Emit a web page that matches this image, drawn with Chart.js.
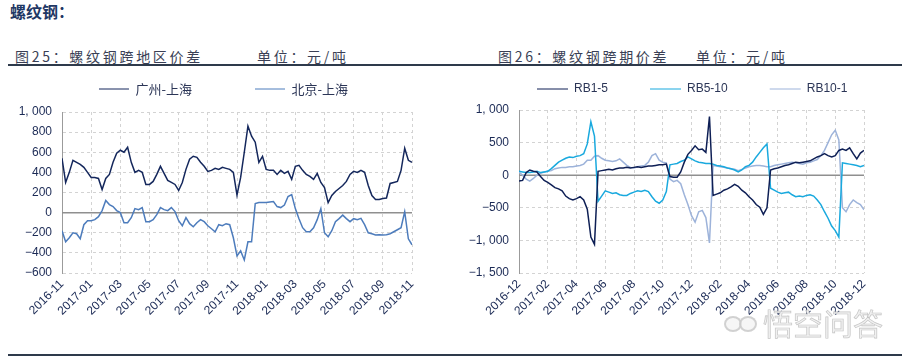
<!DOCTYPE html>
<html><head><meta charset="utf-8">
<script src="https://cdn.jsdelivr.net/npm/chart.js@4.4.1/dist/chart.umd.min.js"></script>
<style>
html,body{margin:0;padding:0;background:#fff;}
body{width:902px;height:356px;position:relative;overflow:hidden;}
.t{position:absolute;white-space:nowrap;font-family:"Noto Sans CJK SC",sans-serif;}
#title{left:10px;top:2px;font-size:16px;line-height:18px;font-weight:700;color:#1f3864;}
.sub{top:49px;font-size:14px;line-height:14px;letter-spacing:2.7px;color:#3a3f55;}
.rule{position:absolute;left:8px;width:894px;height:2px;background:#2e3a4b;}
canvas{position:absolute;top:0;}
#wm{left:763px;top:305px;font-size:30px;line-height:34px;color:rgba(238,238,238,0.85);-webkit-text-stroke:0.7px rgba(175,175,175,0.7);z-index:5;}
.wmc{position:absolute;border:2px solid rgba(200,200,200,0.8);border-radius:50%;width:14px;height:12px;z-index:5;background:rgba(240,240,240,0.6);}
</style></head><body>
<div id="title" class="t">螺纹钢：</div>
<div class="t sub" style="left:15px">图25：螺纹钢跨地区价差</div>
<div class="t sub" style="left:257px">单位：元/吨</div>
<div class="t sub" style="left:498px">图26：螺纹钢跨期价差</div>
<div class="t sub" style="left:696px">单位：元/吨</div>
<div class="rule" style="top:64px"></div>
<div class="rule" style="top:354px"></div>
<canvas id="c1" width="450" height="350" style="left:0"></canvas>
<canvas id="c2" width="452" height="350" style="left:450px"></canvas>
<div class="wmc" style="left:724px;top:316px"></div>
<div class="wmc" style="left:739px;top:316px"></div>
<div id="wm" class="t">悟空问答</div>
<script>
// ---- data ----
const xLabelsRegion = ['2016-11','2017-01','2017-03','2017-05','2017-07','2017-09','2017-11','2018-01','2018-03','2018-05','2018-07','2018-09','2018-11'];
const xLabelsSpread = ['2016-12','2017-02','2017-04','2017-06','2017-08','2017-10','2017-12','2018-02','2018-04','2018-06','2018-08','2018-10','2018-12'];
const sampleStep = 0.25; // months between readings (about weekly)

const gzSh = [540,300,400,520,500,480,450,400,350,350,
  340,230,340,380,500,590,620,600,650,500,
  400,420,400,280,280,310,380,460,390,320,
  300,280,220,300,430,530,560,550,500,460,
  410,420,440,430,450,440,430,400,175,350,
  600,860,760,700,500,560,430,420,420,380,
  420,390,410,330,460,470,420,380,360,330,
  390,300,250,100,170,210,240,270,310,380,
  410,400,420,400,270,170,130,130,140,145,
  290,300,310,420,640,520,500];
const bjSh = [-180,-290,-250,-200,-210,-260,-120,-80,-80,-70,
  -40,20,120,80,60,20,0,-100,-100,-50,
  40,30,50,-90,-90,-70,-20,50,30,20,
  50,10,-80,-130,-50,-110,-140,-100,-70,-90,
  -130,-160,-190,-120,-130,-110,-120,-250,-430,-380,
  -470,-290,-290,90,100,100,100,105,110,60,
  50,75,160,180,40,-60,-150,-190,-190,-150,
  -70,40,-200,-240,-180,-90,-60,-25,-60,-90,
  -60,-70,-57,-120,-200,-210,-222,-220,-222,-220,
  -210,-190,-170,-150,10,-260,-320];

const rb15 = [-90,-80,40,80,60,50,-20,-80,-110,-150,
  -190,-210,-240,-320,-360,-380,-360,-330,-380,-520,
  -950,-1060,
  60,70,80,90,80,100,110,110,120,110,
  120,130,120,130,140,140,150,160,160,170,
  -20,-30,-30,50,200,320,380,450,390,400,350,900,
  -310,-290,-270,-230,-210,-180,-140,-170,-230,-270,-330,-380,-450,-490,-600,-500,
  80,100,110,130,150,160,180,200,190,200,210,220,250,280,300,330,300,280,300,380,400,380,420,330,250,340,380];
const rb510 = [60,50,40,40,50,60,40,50,60,100,
  150,200,230,260,280,270,290,300,330,480,820,600,
  -400,-320,-240,-260,-280,-270,-300,-310,-310,-280,
  -260,-240,-250,-230,-250,-330,-400,-430,-380,-250,
  160,170,180,210,230,280,250,220,200,190,180,180,170,150,140,130,110,100,80,50,80,130,150,200,280,350,420,480,
  -200,-230,-260,-280,-270,-260,-300,-330,-320,-330,-310,-300,-320,-380,-450,-560,-660,-780,-850,-950,
  190,180,170,160,150,130,150];
const rb101 = [50,0,-60,-90,-50,0,30,50,60,70,
  100,110,120,120,130,130,140,150,170,230,
  230,290,300,260,230,220,210,220,250,200,
  150,120,110,130,140,150,200,300,330,230,200,190,
  -60,-100,-80,-130,-300,-450,-620,-720,-560,-540,-650,-1040,
  150,140,130,120,110,100,90,70,90,110,130,140,150,150,140,130,130,150,160,170,180,190,200,190,180,170,190,200,220,240,300,380,500,620,690,540,
  -500,-560,-450,-380,-420,-450,-530];

// ---- styling ----
const tickFont = {family:'"Liberation Sans", Arial, sans-serif', size:12};
const tickColor = '#1b2a55';
const gridColor = '#d3d3d3';
function fmtY(v){ const s = Math.abs(v).toLocaleString('en-US').replace(',', ', '); return (v < 0 ? '\u2212' : '') + s; }
function toPts(arr){ return arr.map((v,i)=>({x:i*sampleStep, y:v})); }

const zeroLine = {
  id:'zeroLine',
  beforeDatasetsDraw(chart){
    const y = chart.scales.y, a = chart.chartArea, ctx = chart.ctx;
    const py = y.getPixelForValue(0);
    ctx.save(); ctx.strokeStyle = '#8f8f8f'; ctx.lineWidth = 1.5;
    ctx.beginPath(); ctx.moveTo(a.left, py); ctx.lineTo(a.right, py); ctx.stroke(); ctx.restore();
  }
};

function baseOptions(o){
  return {
    responsive:false, animation:false,
    elements:{point:{radius:0}, line:{tension:0, borderWidth:1.5}},
    layout:{padding:o.pad},
    plugins:{
      legend:{display:true, position:'top', align:o.align,
        labels:{usePointStyle:true, pointStyle:'line', pointStyleWidth:o.lw, boxWidth:o.lw, padding:o.lp,
          color:'#2b3556', font:o.lfont}},
      title:{display:true, text:'', weight:500, padding:{top:o.gap, bottom:0}, font:{size:1, lineHeight:1}},
      tooltip:{enabled:false}
    },
    scales:{
      x:{type:'linear', min:0, max:24,
        afterFit(s){ s.height = 77; s.paddingRight = 38; },
        ticks:{stepSize:2, autoSkip:false, maxRotation:45, minRotation:45, padding:4, color:tickColor, font:tickFont,
          callback:(v,i)=>o.xl[i]},
        grid:{color:gridColor, drawTicks:false}, border:{display:false, dash:[3,3]}},
      y:{min:o.ymin, max:o.ymax,
        afterFit(s){ s.width = o.yw; },
        ticks:{stepSize:o.ystep, padding:10, color:tickColor, font:tickFont, callback:v=>fmtY(v)},
        grid:{color:gridColor, drawTicks:false}, border:{display:true, color:'#9b9b9b', width:1, dash:[3,3]}}
    }
  };
}

new Chart(document.getElementById('c1'), {
  type:'line',
  data:{datasets:[
    {label:'广州-上海', data:toPts(gzSh), borderColor:'#14275c', backgroundColor:'#14275c'},
    {label:'北京-上海', data:toPts(bjSh), borderColor:'#4d7cbc', backgroundColor:'#4d7cbc'}
  ]},
  options:baseOptions({pad:{left:0,right:3,top:19.5,bottom:0}, lw:30, lp:63, align:'center',
    lfont:{family:'"Noto Sans CJK SC", sans-serif', size:13}, gap:5.5,
    xl:xLabelsRegion, ymin:-600, ymax:1000, ystep:200, yw:62}),
  plugins:[zeroLine]
});

new Chart(document.getElementById('c2'), {
  type:'line',
  data:{datasets:[
    {label:'RB1-5', data:toPts(rb15), borderColor:'#0e1f55', backgroundColor:'#0e1f55'},
    {label:'RB5-10', data:toPts(rb510), borderColor:'#19a9de', backgroundColor:'#19a9de'},
    {label:'RB10-1', data:toPts(rb101), borderColor:'#9db3da', backgroundColor:'#9db3da'}
  ]},
  options:baseOptions({pad:{left:0,right:12.6,top:41,bottom:0}, lw:31, lp:42, align:'end',
    lfont:{family:'"Liberation Sans", Arial, sans-serif', size:12}, gap:4,
    xl:xLabelsSpread, ymin:-1500, ymax:1000, ystep:500, yw:69}),
  plugins:[zeroLine]
});
</script>
</body></html>
